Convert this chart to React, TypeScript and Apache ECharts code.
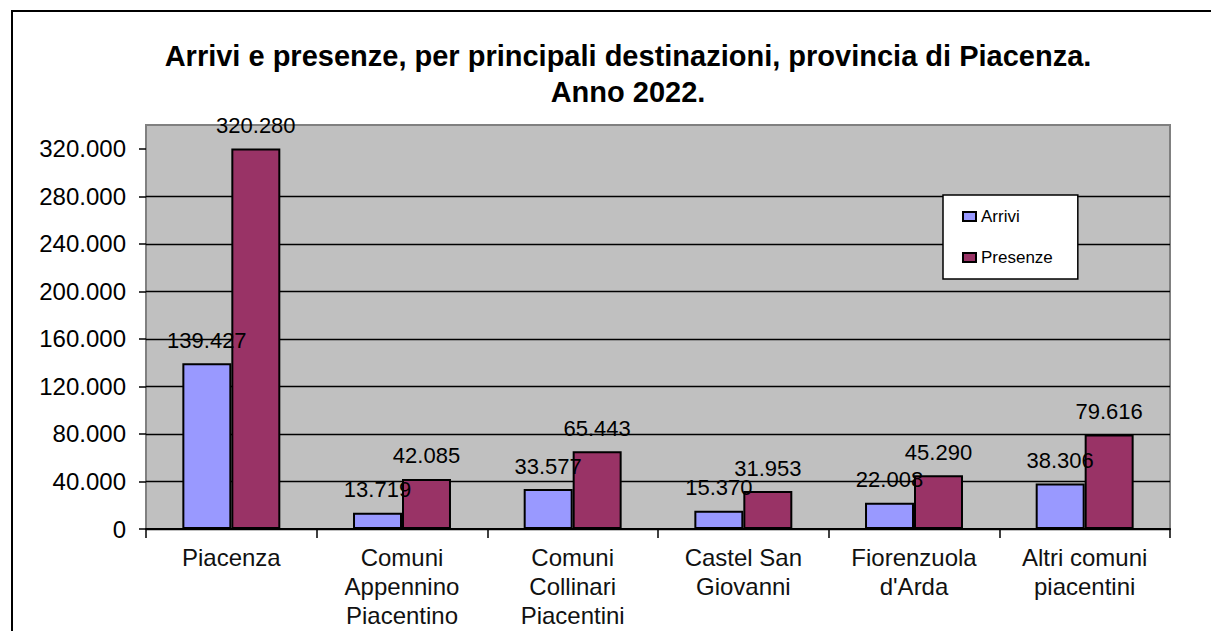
import React, { useEffect, useRef } from "react";
import * as echarts from "echarts";

const categories = [
  "Piacenza",
  "Comuni\nAppennino\nPiacentino",
  "Comuni\nCollinari\nPiacentini",
  "Castel San\nGiovanni",
  "Fiorenzuola\nd'Arda",
  "Altri comuni\npiacentini",
];
const arrivi = [139427, 13719, 33577, 15370, 22008, 38306];
const presenze = [320280, 42085, 65443, 31953, 45290, 79616];
const yTicks = [0, 40000, 80000, 120000, 160000, 200000, 240000, 280000, 320000];
const titleText = "Arrivi e presenze, per principali destinazioni, provincia di Piacenza.\nAnno 2022.";

const FONT = "'Liberation Sans', Arial, sans-serif";
const fmt = (n: number) => String(n).replace(/\B(?=(\d{3})+(?!\d))/g, ".");

export default function App() {
  const ref = useRef<HTMLDivElement>(null);
  useEffect(() => {
    if (!ref.current) return;
    const chart = echarts.init(ref.current, null, { renderer: "svg" });
    const labelCfg = {
      show: true,
      position: "top",
      distance: 12,
      fontSize: 22,
      fontFamily: FONT,
      color: "#000",
      formatter: (p: any) => fmt(p.value),
    };
    chart.setOption({
      animation: false,
      backgroundColor: "#fff",
      textStyle: { fontFamily: FONT },
      graphic: [
        {
          type: "rect",
          shape: { x: 12, y: 11, width: 1300, height: 700 },
          style: { fill: "none", stroke: "#000", lineWidth: 2 },
          silent: true,
        },
        {
          type: "text",
          x: 628,
          y: 38,
          style: {
            text: titleText,
            textAlign: "center",
            fontSize: 29,
            fontWeight: "bold",
            fontFamily: FONT,
            lineHeight: 36,
            fill: "#000",
          },
        },
      ],
      grid: {
        left: 146,
        right: 41,
        top: 125,
        bottom: 102,
        show: true,
        backgroundColor: "#C0C0C0",
        borderColor: "#808080",
        borderWidth: 2,
      },
      legend: {
        orient: "vertical",
        left: 943,
        top: 195,
        backgroundColor: "#fff",
        borderColor: "#000",
        borderWidth: 1.5,
        borderRadius: 0,
        padding: [13, 25, 13, 19],
        itemGap: 24,
        itemWidth: 13,
        itemHeight: 9,
        icon: "rect",
        textStyle: { fontSize: 17, color: "#000", fontFamily: FONT },
        data: ["Arrivi", "Presenze"],
      },
      xAxis: {
        type: "category",
        data: categories,
        axisLine: { show: true, lineStyle: { color: "#000", width: 2 } },
        axisTick: { show: true, length: 9, lineStyle: { color: "#000", width: 1.5 } },
        axisLabel: {
          interval: 0,
          fontSize: 24,
          lineHeight: 29,
          color: "#111",
          margin: 14,
          fontFamily: FONT,
        },
        splitLine: { show: false },
      },
      yAxis: {
        type: "value",
        min: 0,
        max: 340000,
        interval: 40000,
        axisLine: { show: false },
        axisTick: {
          show: true,
          length: 7,
          lineStyle: { color: "#000", width: 1.5 },
          customValues: yTicks,
        },
        axisLabel: {
          fontSize: 24,
          color: "#000",
          margin: 20,
          fontFamily: FONT,
          customValues: yTicks,
          formatter: (v: number) => (v > 320000 ? "" : fmt(v)),
        },
        splitLine: {
          show: true,
          showMaxLine: false,
          lineStyle: { color: "#000", width: 1.3 },
        },
      },
      series: [
        {
          name: "Arrivi",
          type: "bar",
          data: arrivi,
          barGap: "0%",
          barCategoryGap: "42.6%",
          itemStyle: { color: "#9999FF", borderColor: "#000", borderWidth: 2 },
          label: labelCfg,
        },
        {
          name: "Presenze",
          type: "bar",
          data: presenze,
          barGap: "0%",
          barCategoryGap: "42.6%",
          itemStyle: { color: "#993366", borderColor: "#000", borderWidth: 2 },
          label: labelCfg,
        },
      ],
    });
    return () => chart.dispose();
  }, []);
  return (
    <div
      ref={ref}
      style={{ position: "absolute", left: 0, top: 0, width: 1211, height: 631 }}
    />
  );
}
